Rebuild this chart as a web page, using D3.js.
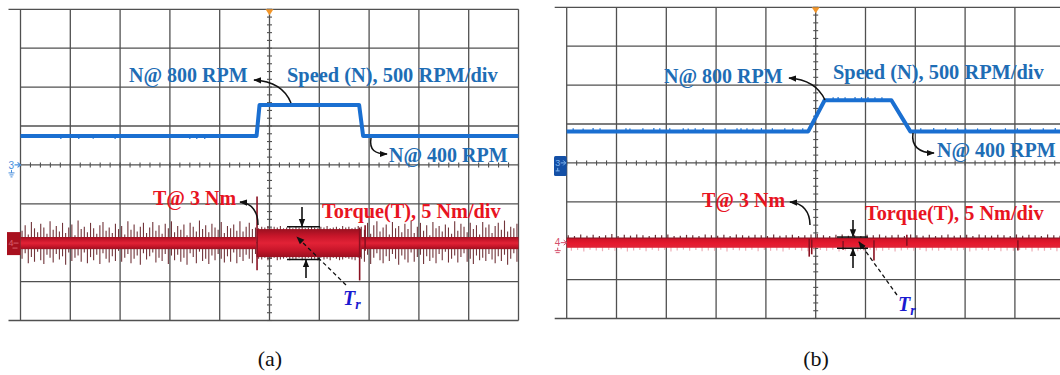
<!DOCTYPE html>
<html>
<head>
<meta charset="utf-8">
<script src="https://cdn.jsdelivr.net/npm/d3@7"></script>
<style>
  html, body { margin: 0; padding: 0; background: #fff; }
  svg { display: block; }
  .lbl { font-family: "Liberation Serif", "Times New Roman", serif; font-weight: bold; }
  .cap { font-family: "Liberation Serif", "Times New Roman", serif; }
</style>
</head>
<body>
<svg id="chart" width="1060" height="375"></svg>
<script>
// ---------------- channel settings ----------------
const speedPerDiv = 500;   // RPM/div
const torquePerDiv = 5;    // Nm/div
const torqueSet = 3;       // Nm load torque
const speedLow = 400, speedHigh = 800;

// ---------------- (a) step speed command ----------------
const speedTimesA  = [0, 4.74, 4.80, 6.80, 6.88, 10];          // divisions
const speedValuesA = [speedLow, speedLow, speedHigh, speedHigh, speedLow, speedLow];
const speedGlitchTimesA  = [0.81, 1.17, 1.46, 1.90, 3.40, 3.54, 3.70];
const speedGlitchValuesA = [362, 362, 365, 362, 364, 362, 364];

const torqueBandEdgesA = [0, 4.74, 6.84, 10];
const torqueBandHalfA  = [0.78, 1.8, 0.78];                     // Nm ripple half-width
// ripple spike extents above / below the set-point, Nm
const torqueUpA = [
  1.6,2.3,1.1,2.7,1.9,1.4,2.5,2.0,1.2,2.8, 1.7,2.2,1.5,2.6,1.3,2.0,2.4,1.0,2.9,1.8,
  2.1,1.4,2.6,1.9,1.2,2.3,2.7,1.6,2.0,1.3, 2.5,1.8,2.2,1.1,2.8,1.7,2.4,1.5,2.1,2.6,
  1.3,2.0,2.7,1.6,2.3,1.2,2.5,1.9,2.8,1.4, 2.2,1.7,2.4,1.0,2.6,2.1,1.5,2.9,1.8,2.3,
  1.4,2.5,2.0,1.7,2.7,1.3,2.2,1.9,2.4,1.6, 2.8,1.5,2.1,2.6,1.8,2.0,1.9,2.1,2.0,2.2,
  1.9,2.1,2.0,2.2,1.9,2.0,2.1,1.9,2.2,2.0, 2.1,1.9,2.0,2.2,2.0,1.9,2.1,2.0,2.2,1.9,
  2.0,2.1,1.9,2.2,2.0,2.1,1.9,2.0,2.2,2.1, 1.7,2.6,1.2,2.3,2.8,1.5,2.0,2.4,1.1,2.7,
  1.9,2.2,1.4,2.5,1.8,2.9,1.3,2.1,2.6,1.6, 2.3,1.0,2.7,1.9,2.2,1.5,2.4,2.0,1.2,2.8,
  1.6,2.5,2.1,1.4,2.6,1.8,2.3,1.1,2.7,2.0, 2.4,1.3,2.2,2.6,1.7,2.9,1.5,2.1,1.9,2.5];
const torqueDownA = [
  2.0,1.3,2.6,1.8,2.4,1.1,2.2,2.7,1.5,1.9, 2.5,1.4,2.1,1.7,2.8,1.2,2.3,1.9,1.6,2.4,
  1.2,2.6,1.8,2.2,1.5,2.7,1.3,2.0,2.5,1.7, 2.3,1.0,2.4,1.9,1.4,2.6,2.0,1.6,2.8,1.3,
  2.1,1.7,1.2,2.5,1.9,2.3,1.4,2.7,1.6,2.2, 1.5,2.4,1.9,2.8,1.3,1.8,2.6,1.1,2.3,2.0,
  2.7,1.6,2.2,1.4,2.0,2.5,1.7,2.4,1.2,2.6, 1.8,2.3,1.5,2.0,2.6,1.4,2.0,2.1,1.9,2.2,
  2.0,1.9,2.2,2.1,2.0,1.9,2.2,2.0,2.1,1.9, 2.2,2.0,1.9,2.1,2.0,2.2,1.9,2.1,2.0,2.2,
  1.9,2.0,2.2,2.1,1.9,2.0,2.1,2.2,1.9,2.0, 2.4,1.5,2.7,1.9,1.3,2.2,2.6,1.7,2.3,1.4,
  2.0,2.8,1.6,2.1,2.5,1.2,2.4,1.8,1.5,2.7, 1.7,2.3,1.9,2.6,1.4,2.2,1.1,2.5,2.0,1.6,
  2.5,1.8,1.3,2.4,2.0,2.7,1.6,2.2,1.9,2.3, 1.4,2.1,2.6,1.7,2.3,1.5,2.8,2.0,1.3,2.4];
const torqueEventTimesA = [4.75, 6.81, 6.92];
const torqueEventHighA  = [6.0, 2.0, 2.3];
const torqueEventLowA   = [-3.5, -4.8, -1.0];
const torqueRippleA = 2.1;

// ---------------- (b) ramped speed command ----------------
const speedTimesB  = [0, 4.85, 5.18, 6.52, 6.90, 10];
const speedValuesB = [speedLow, speedLow, speedHigh, speedHigh, speedLow, speedLow];
const speedGlitchTimesB = [
  0.13,0.33,0.53,0.67,1.19,1.27,1.53,1.75,1.87,2.07,2.34,2.44,2.58,2.74,3.18,3.42,3.50,3.62,
  3.74,3.91,4.13,4.38,4.54,4.74,5.35,5.45,5.59,5.79,5.92,6.05,6.19,6.33,7.11,7.37,7.61,7.85,
  8.01,8.25,8.51,8.81,9.05,9.31,9.57,9.81];
const speedGlitchValuesB = [
  440,438,442,440,441,438,440,442,439,440,441,438,440,442,440,439,441,440,
  438,442,440,439,441,440,840,842,839,841,840,842,839,840,440,442,439,441,
  440,438,442,440,441,439,440,442];

const torqueBandEdgesB = [0, 10];
const torqueBandHalfB  = [0.66];
const torqueUpB = [
  0.95,0.85,1.05,0.9,1.0,0.85,0.95,1.1,0.85,1.0, 0.9,1.05,0.95,0.85,1.0,0.95,1.05,0.85,0.9,1.0,
  0.95,0.85,1.05,0.95,0.9,1.0,0.85,1.05,0.95,0.9, 1.0,0.95,0.85,1.05,0.9,0.95,1.0,0.85,0.95,1.05,
  1.1,0.95,0.85,1.0,1.05,0.9,0.95,0.85,1.0,0.95, 1.05,0.9,0.95,1.0,0.85,1.05,0.95,0.9,1.0,0.85,
  0.95,1.05,0.9,0.95,1.0,0.85,1.05,0.95,0.9,1.0, 0.95,0.85,1.05,0.9,1.0,0.95,0.85,1.05,0.95,0.9];
const torqueDownB = [
  1.05,0.95,1.15,0.9,1.0,1.1,0.95,1.05,0.85,1.15, 1.0,0.95,1.1,0.9,1.05,0.95,1.15,1.0,0.9,1.05,
  0.95,1.1,1.0,1.05,0.9,1.15,0.95,1.0,1.05,0.9, 1.1,0.95,1.05,1.0,1.15,0.9,0.95,1.05,1.1,1.0,
  0.95,1.05,0.9,1.15,1.0,0.95,1.1,1.05,0.9,1.0, 1.05,0.95,1.15,1.0,0.9,1.05,0.95,1.1,1.0,1.05,
  0.9,1.0,1.05,0.95,1.15,1.0,0.9,1.05,0.95,1.1, 1.0,1.05,0.95,0.9,1.15,1.0,1.05,0.95,1.1,0.95];
const torqueEventTimesB = [4.87, 4.92, 5.55, 6.17, 6.83, 9.06];
const torqueEventHighB  = [0.5, 0.4, 0.2, 0.3, 1.0, 0.3];
const torqueEventLowB   = [-1.8, -1.5, -0.9, -2.3, -0.4, -1.0];
const torqueRippleB = 0.72;

const captions = ["(a)", "(b)"];

// ---------------- layout ----------------
const panels = [
  {
    x0: 20.5, y0: 9.3, dx: 49.8, dy: 38.9, speedZero: 4.06, torqueZero: 6.01,
    speedT: speedTimesA, speedV: speedValuesA, glT: speedGlitchTimesA, glV: speedGlitchValuesA,
    bandEdges: torqueBandEdgesA, bandHalf: torqueBandHalfA, up: torqueUpA, down: torqueDownA,
    spikeMode: "full", upColor: "#6a2a30", downColor: "#6a2a30", evT: torqueEventTimesA, evH: torqueEventHighA,
    evL: torqueEventLowA, ripple: torqueRippleA, bandFill: "url(#bandA)", style: "a",
    lbl: { n800: [129, 81.5], speed: [287, 81.5], n400: [389, 161.5], t3: [153, 205], torque: [322, 218], tr: [343, 305] },
    arrows: ["M291,103 C285,88 272,81 254,80", "M371,138 C369,150 375,154 387,154", "M258,225 C258,212 252,203 240,202"],
    trBox: { x1: 287, x2: 320, upX: 302, upFrom: 207, downX: 306, downFrom: 278, dash: [346, 285, 297, 237] },
    captionX: 270
  },
  {
    x0: 566.7, y0: 7.3, dx: 49.8, dy: 38.9, speedZero: 3.99, torqueZero: 6.05,
    speedT: speedTimesB, speedV: speedValuesB, glT: speedGlitchTimesB, glV: speedGlitchValuesB,
    bandEdges: torqueBandEdgesB, bandHalf: torqueBandHalfB, up: torqueUpB, down: torqueDownB,
    spikeMode: "split", upColor: "#5a1820", downColor: "#eca5af", evT: torqueEventTimesB, evH: torqueEventHighB,
    evL: torqueEventLowB, ripple: torqueRippleB, bandFill: "url(#bandB)", style: "b",
    lbl: { n800: [664, 82.5], speed: [833, 79], n400: [937, 157], t3: [702, 206.5], torque: [865, 220], tr: [898, 311] },
    arrows: ["M825,100 C818,85 805,79 789,78", "M913,133 C911,146 919,153 934,153", "M810,225 C810,212 803,203 790,202"],
    trBox: { x1: 837, x2: 868, upX: 853, upFrom: 220, downX: 853, downFrom: 268, dash: [897, 295, 859, 242] },
    captionX: 816
  }
];

const svg = d3.select("#chart");
const defs = svg.append("defs");

defs.append("marker").attr("id", "arrow")
  .attr("viewBox", "0 0 10 10").attr("refX", 9).attr("refY", 5)
  .attr("markerWidth", 8).attr("markerHeight", 8).attr("markerUnits", "userSpaceOnUse")
  .attr("orient", "auto")
  .append("path").attr("d", "M0,1 L10,5 L0,9 Z").attr("fill", "#111");

function gradient(id, stops) {
  const g = defs.append("linearGradient").attr("id", id)
    .attr("x1", 0).attr("y1", 0).attr("x2", 0).attr("y2", 1);
  stops.forEach(s => g.append("stop").attr("offset", s[0]).attr("stop-color", s[1]));
}
gradient("bandA", [[0, "#9a1020"], [0.25, "#c8162a"], [0.5, "#e22236"], [0.75, "#c8162a"], [1, "#9a1020"]]);
gradient("bandB", [[0, "#7e1220"], [0.2, "#d41428"], [0.6, "#e6192e"], [1, "#de2538"]]);

const SPEED_BLUE = "#1a6fd1";
const LABEL_BLUE = "#1e6db5";
const LABEL_RED = "#e8141f";

panels.forEach((p, pi) => {
  const g = svg.append("g");
  const x = d3.scaleLinear().domain([0, 10]).range([p.x0, p.x0 + 10 * p.dx]);
  const yDiv = d3.scaleLinear().domain([0, 8]).range([p.y0, p.y0 + 8 * p.dy]);
  const ySpeed = d3.scaleLinear().domain([0, speedPerDiv])
    .range([yDiv(p.speedZero), yDiv(p.speedZero - 1)]);
  const yTorque = d3.scaleLinear().domain([torqueSet, torqueSet + torquePerDiv])
    .range([yDiv(p.torqueZero), yDiv(p.torqueZero - 1)]);

  // graticule
  const grid = g.append("g").attr("stroke", "#505050").attr("stroke-width", 1.3);
  grid.selectAll(".v").data(d3.range(0, 11)).join("line")
    .attr("x1", d => x(d)).attr("x2", d => x(d)).attr("y1", yDiv(0)).attr("y2", yDiv(8));
  grid.selectAll(".h").data(d3.range(0, 9)).join("line")
    .attr("x1", d => (d === 0 || d === 8) ? x(0) - 12 : x(0)).attr("x2", x(10))
    .attr("y1", d => yDiv(d)).attr("y2", d => yDiv(d));

  // minor ticks on centre axes
  const ticks = g.append("g").attr("stroke", "#505050").attr("stroke-width", 1.1);
  ticks.selectAll(".tx").data(d3.range(0, 10.001, 0.2)).join("line")
    .attr("x1", d => x(d)).attr("x2", d => x(d))
    .attr("y1", yDiv(4) - 2.5).attr("y2", yDiv(4) + 2.5);
  ticks.selectAll(".ty").data(d3.range(0, 8.001, 0.2)).join("line")
    .attr("x1", x(5) - 2.5).attr("x2", x(5) + 2.5)
    .attr("y1", d => yDiv(d)).attr("y2", d => yDiv(d));

  // trigger marker
  g.append("path")
    .attr("d", `M${x(5) - 4},${yDiv(0)} L${x(5) + 4},${yDiv(0)} L${x(5)},${yDiv(0) + 6} Z`)
    .attr("fill", "#f2962a");

  // ---- torque trace ----
  const tg = g.append("g");
  const n = p.up.length, step = 10 / n;
  if (p.spikeMode === "full") {
    tg.selectAll(".sp").data(p.up).join("line")
      .attr("x1", (d, i) => x((i + 0.5) * step)).attr("x2", (d, i) => x((i + 0.5) * step))
      .attr("y1", d => yTorque(torqueSet + d)).attr("y2", (d, i) => yTorque(torqueSet - p.down[i]))
      .attr("stroke", p.upColor).attr("stroke-width", 1.1).attr("opacity", 0.95);
  } else {
    tg.selectAll(".dn").data(p.down).join("line")
      .attr("x1", (d, i) => x(i * step + step * 0.75)).attr("x2", (d, i) => x(i * step + step * 0.75))
      .attr("y1", yTorque(torqueSet)).attr("y2", d => yTorque(torqueSet - d))
      .attr("stroke", p.downColor).attr("stroke-width", 1.2).attr("opacity", 0.9);
    tg.selectAll(".up").data(p.up).join("line")
      .attr("x1", (d, i) => x(i * step + step * 0.25)).attr("x2", (d, i) => x(i * step + step * 0.25))
      .attr("y1", yTorque(torqueSet)).attr("y2", d => yTorque(torqueSet + d))
      .attr("stroke", p.upColor).attr("stroke-width", 1.2).attr("opacity", 0.9);
  }
  tg.selectAll(".band").data(p.bandHalf).join("rect")
    .attr("x", (d, i) => x(p.bandEdges[i])).attr("width", (d, i) => x(p.bandEdges[i + 1]) - x(p.bandEdges[i]))
    .attr("y", d => yTorque(torqueSet + d)).attr("height", d => yTorque(torqueSet - d) - yTorque(torqueSet + d))
    .attr("fill", p.bandFill);
  tg.selectAll(".ev").data(p.evT).join("line")
    .attr("x1", d => x(d)).attr("x2", d => x(d))
    .attr("y1", (d, i) => yTorque(torqueSet + p.evH[i])).attr("y2", (d, i) => yTorque(torqueSet + p.evL[i]))
    .attr("stroke", "#8a1020").attr("stroke-width", 1.6);

  // ---- speed trace ----
  const sg = g.append("g");
  sg.selectAll(".gl").data(p.glT).join("line")
    .attr("x1", d => x(d)).attr("x2", d => x(d))
    .attr("y1", (d, i) => ySpeed(Math.abs(p.glV[i] - speedLow) < Math.abs(p.glV[i] - speedHigh) ? speedLow : speedHigh))
    .attr("y2", (d, i) => ySpeed(p.glV[i]))
    .attr("stroke", SPEED_BLUE).attr("stroke-width", 1.2);
  const line = d3.line().x(d => x(d[0])).y(d => ySpeed(d[1]));
  sg.append("path").datum(p.speedT.map((t, i) => [t, p.speedV[i]]))
    .attr("d", line).attr("fill", "none")
    .attr("stroke", SPEED_BLUE).attr("stroke-width", 4).attr("stroke-linejoin", "round");

  // ---- channel markers ----
  const m = g.append("g");
  const y3 = yDiv(4), y4 = yTorque(torqueSet), mx = x(0);
  if (p.style === "a") {
    m.append("text").attr("x", mx - 12).attr("y", y3 + 4).attr("font-family", "Arial, sans-serif")
      .attr("font-size", 10).attr("fill", "#4a90dc").text("3");
    m.append("path").attr("d", `M${mx - 6},${y3} L${mx},${y3} M${mx - 3},${y3 - 2.5} L${mx},${y3} L${mx - 3},${y3 + 2.5}`)
      .attr("stroke", "#4a90dc").attr("fill", "none").attr("stroke-width", 1.2);
    m.append("path").attr("d", `M${mx - 9},${y3 + 5} V${y3 + 8} M${mx - 12},${y3 + 8} H${mx - 6} M${mx - 11},${y3 + 10} H${mx - 7} M${mx - 10},${y3 + 12} H${mx - 8}`)
      .attr("stroke", "#4a90dc").attr("stroke-width", 1);
    m.append("rect").attr("x", mx - 13.5).attr("y", y4 - 11).attr("width", 13.5).attr("height", 23)
      .attr("fill", "#a8101e");
    m.append("text").attr("x", mx - 12).attr("y", y4 + 3).attr("font-family", "Arial, sans-serif")
      .attr("font-size", 9).attr("fill", "#d8606e").text("4");
    m.append("path").attr("d", `M${mx - 7},${y4} L${mx - 2},${y4} M${mx - 8},${y4 + 5} H${mx - 3}`)
      .attr("stroke", "#d8606e").attr("stroke-width", 1);
  } else {
    m.append("rect").attr("x", mx - 12.7).attr("y", y3 - 7).attr("width", 12.7).attr("height", 20)
      .attr("rx", 1.5).attr("fill", "#1450a6");
    m.append("text").attr("x", mx - 11.5).attr("y", y3 + 3.5).attr("font-family", "Arial, sans-serif")
      .attr("font-size", 9).attr("fill", "#7fb4ee").text("3");
    m.append("path").attr("d", `M${mx - 6},${y3} L${mx - 1},${y3} M${mx - 3.5},${y3 - 2.5} L${mx - 1},${y3} L${mx - 3.5},${y3 + 2.5} M${mx - 9},${y3 + 5} V${y3 + 8} M${mx - 11},${y3 + 8} H${mx - 7}`)
      .attr("stroke", "#7fb4ee").attr("fill", "none").attr("stroke-width", 1);
    m.append("text").attr("x", mx - 12).attr("y", y4 + 3).attr("font-family", "Arial, sans-serif")
      .attr("font-size", 10).attr("fill", "#d4506a").text("4");
    m.append("path").attr("d", `M${mx - 6},${y4} L${mx},${y4} M${mx - 3},${y4 - 2.5} L${mx},${y4} L${mx - 3},${y4 + 2.5} M${mx - 9},${y4 + 5} V${y4 + 8} M${mx - 12},${y4 + 8} H${mx - 6} M${mx - 11},${y4 + 10} H${mx - 7}`)
      .attr("stroke", "#d4506a").attr("fill", "none").attr("stroke-width", 1);
  }

  // ---- annotations ----
  const a = g.append("g");
  const txt = (pos, s, color, size) => a.append("text").attr("class", "lbl")
    .attr("x", pos[0]).attr("y", pos[1]).attr("font-size", size).attr("fill", color).text(s);
  txt(p.lbl.n800, `N@ ${d3.max(p.speedV)} RPM`, LABEL_BLUE, 20);
  txt(p.lbl.speed, `Speed (N), ${speedPerDiv} RPM/div`, LABEL_BLUE, 20.4);
  txt(p.lbl.n400, `N@ ${d3.min(p.speedV)} RPM`, LABEL_BLUE, 20);
  txt(p.lbl.t3, `T@ ${torqueSet} Nm`, LABEL_RED, 20);
  txt(p.lbl.torque, `Torque(T), ${torquePerDiv} Nm/div`, LABEL_RED, 20.3);

  a.selectAll(".arr").data(p.arrows).join("path")
    .attr("d", d => d).attr("fill", "none").attr("stroke", "#111").attr("stroke-width", 1.5)
    .attr("marker-end", "url(#arrow)");

  // ripple measurement
  const tb = p.trBox;
  const yTop = yTorque(torqueSet + p.ripple), yBot = yTorque(torqueSet - p.ripple);
  a.append("line").attr("x1", tb.x1).attr("x2", tb.x2).attr("y1", yTop).attr("y2", yTop)
    .attr("stroke", "#111").attr("stroke-width", 1.5);
  a.append("line").attr("x1", tb.x1).attr("x2", tb.x2).attr("y1", yBot).attr("y2", yBot)
    .attr("stroke", "#111").attr("stroke-width", 1.5);
  a.append("line").attr("x1", tb.upX).attr("x2", tb.upX).attr("y1", tb.upFrom).attr("y2", yTop - 0.5)
    .attr("stroke", "#111").attr("stroke-width", 1.6).attr("marker-end", "url(#arrow)");
  a.append("line").attr("x1", tb.downX).attr("x2", tb.downX).attr("y1", tb.downFrom).attr("y2", yBot + 0.5)
    .attr("stroke", "#111").attr("stroke-width", 1.6).attr("marker-end", "url(#arrow)");
  a.append("line").attr("x1", tb.dash[0]).attr("y1", tb.dash[1]).attr("x2", tb.dash[2]).attr("y2", tb.dash[3])
    .attr("stroke", "#111").attr("stroke-width", 1.3).attr("stroke-dasharray", "4,3")
    .attr("marker-end", "url(#arrow)");
  const tr = a.append("text").attr("class", "lbl").attr("x", p.lbl.tr[0]).attr("y", p.lbl.tr[1])
    .attr("font-size", 20).attr("font-style", "italic").attr("fill", "#1a1ad0");
  tr.append("tspan").text("T");
  tr.append("tspan").attr("font-size", 14).attr("dy", 4).text("r");

  // caption
  svg.append("text").attr("class", "cap").attr("x", p.captionX).attr("y", 366)
    .attr("text-anchor", "middle").attr("font-size", 22).attr("fill", "#111").text(captions[pi]);
});
</script>
</body>
</html>
